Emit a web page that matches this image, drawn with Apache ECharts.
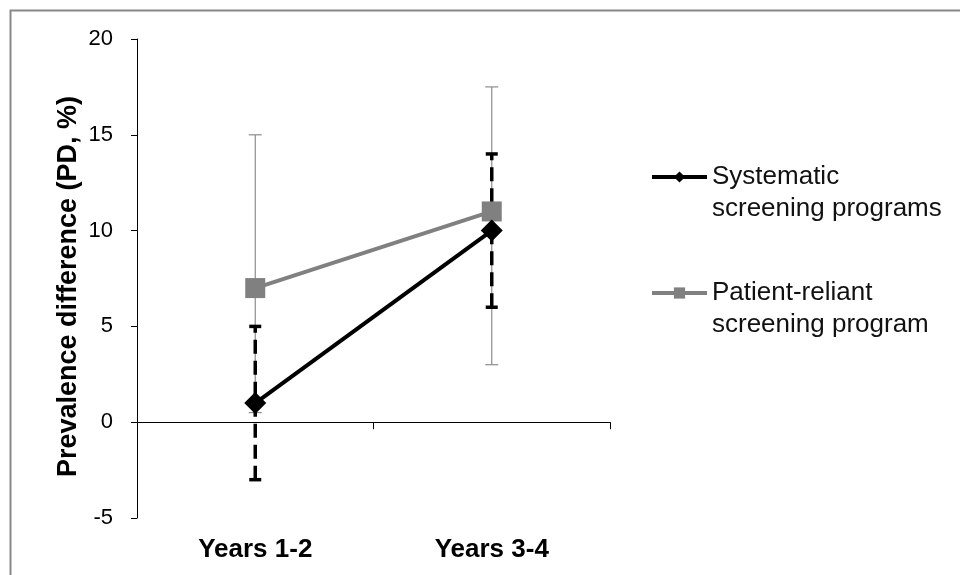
<!DOCTYPE html>
<html>
<head>
<meta charset="utf-8">
<script src="https://cdn.jsdelivr.net/npm/echarts@6/dist/echarts.min.js"></script>
<style>html,body{margin:0;padding:0;background:#fff;}#c{width:960px;height:575px;}</style>
</head>
<body>
<div id="c"></div>
<script>
var categories = ['Years 1-2', 'Years 3-4'];
var systematicName = 'Systematic screening programs';
var patientName = 'Patient-reliant screening program';
var systematic = [1, 10];
var systematicLow = [-3, 6];
var systematicHigh = [5, 14];
var patient = [7, 11];
var patientLow = [0.5, 3];
var patientHigh = [15, 17.5];
var yTicks = { min: -5, max: 20, interval: 5 };

var FONT = "'Liberation Sans', Arial, sans-serif";

function errData(low, high) {
  return low.map(function (l, i) { return [i, l, high[i]]; });
}
function errRender(color, width, dash, capW) {
  return function (params, api) {
    var x = api.value(0), lo = api.value(1), hi = api.value(2);
    var pLo = api.coord([x, lo]), pHi = api.coord([x, hi]);
    return {
      type: 'group',
      children: [
        { type: 'line', shape: { x1: pLo[0], y1: pLo[1], x2: pHi[0], y2: pHi[1] },
          style: { stroke: color, lineWidth: width, lineDash: dash } },
        { type: 'line', shape: { x1: pHi[0] - capW / 2, y1: pHi[1], x2: pHi[0] + capW / 2, y2: pHi[1] },
          style: { stroke: color, lineWidth: width } },
        { type: 'line', shape: { x1: pLo[0] - capW / 2, y1: pLo[1], x2: pLo[0] + capW / 2, y2: pLo[1] },
          style: { stroke: color, lineWidth: width } }
      ]
    };
  };
}

var chart = echarts.init(document.getElementById('c'), null, { renderer: 'canvas' });
chart.setOption({
  animation: false,
  backgroundColor: '#fff',
  textStyle: { fontFamily: FONT },
  graphic: [{
    type: 'rect', left: 8, top: 8, z: 100,
    shape: { width: 960, height: 575 },
    style: { fill: 'none', stroke: '#888', lineWidth: 2 }
  }],
  grid: { left: 137, right: 350, top: 39, bottom: 57 },
  legend: {
    orient: 'vertical',
    left: 650, top: 129, padding: 0,
    itemWidth: 55, itemHeight: 14, itemGap: 20,
    data: [systematicName, patientName],
    lineStyle: { width: 4 },
    formatter: function (n) {
      return n === systematicName ? '\nSystematic\nscreening programs' : '\nPatient-reliant\nscreening program';
    },
    textStyle: { fontFamily: FONT, fontSize: 26, color: '#111', lineHeight: 32 }
  },
  xAxis: [{
    type: 'category', data: categories, boundaryGap: true,
    axisLine: { onZero: true, lineStyle: { color: '#000', width: 1 } },
    axisTick: { show: true, length: 7, lineStyle: { color: '#000' } },
    axisLabel: { show: false },
    splitLine: { show: false }
  }, {
    type: 'category', data: categories, position: 'bottom', boundaryGap: true,
    axisLine: { show: false, onZero: false },
    axisTick: { show: false },
    axisLabel: { fontFamily: FONT, fontSize: 26, fontWeight: 'bold', color: '#000', margin: 19 },
    splitLine: { show: false }
  }],
  yAxis: {
    type: 'value', min: yTicks.min, max: yTicks.max, interval: yTicks.interval,
    name: 'Prevalence difference (PD, %)', nameLocation: 'middle', nameGap: 55,
    nameTextStyle: { fontFamily: FONT, fontSize: 27, fontWeight: 'bold', color: '#000', padding: [0, 16, 0, 0] },
    axisLine: { show: true, lineStyle: { color: '#000', width: 1 } },
    axisTick: { show: true, length: 6, lineStyle: { color: '#000' } },
    axisLabel: { fontFamily: FONT, fontSize: 22, color: '#000', margin: 24 },
    splitLine: { show: false }
  },
  series: [{
    type: 'custom', name: 'patientErr', z: 1,
    renderItem: errRender('#8c8c8c', 1.2, null, 13),
    encode: { x: 0, y: [1, 2] },
    data: errData(patientLow, patientHigh)
  }, {
    type: 'custom', name: 'systematicErr', z: 2,
    renderItem: errRender('#000', 3.5, [14, 7], 12),
    encode: { x: 0, y: [1, 2] },
    data: errData(systematicLow, systematicHigh)
  }, {
    type: 'line', name: patientName, z: 3,
    data: patient,
    symbol: 'rect', symbolSize: 20,
    lineStyle: { color: '#808080', width: 4 },
    itemStyle: { color: '#808080' }
  }, {
    type: 'line', name: systematicName, z: 4,
    data: systematic,
    symbol: 'diamond', symbolSize: 22,
    lineStyle: { color: '#000', width: 4 },
    itemStyle: { color: '#000' }
  }]
});
</script>
</body>
</html>
